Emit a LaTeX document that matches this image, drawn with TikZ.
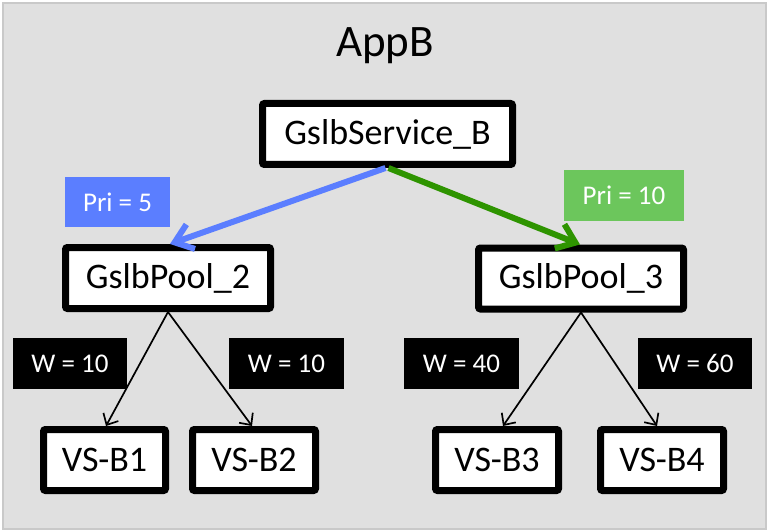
\documentclass[tikz,border=0pt]{standalone}
\usepackage{fontspec}
\setmainfont{Carlito}
\usetikzlibrary{arrows.meta,calc}
\definecolor{bgfill}{HTML}{E0E0E0}
\definecolor{bgline}{HTML}{C9C9C9}
\definecolor{priblue}{HTML}{5B7EFF}
\definecolor{prigreen}{HTML}{6CC65C}
\definecolor{arrgreen}{HTML}{2E9400}
\tikzset{
  box/.style={draw=black, fill=white, line width=7pt, rounded corners=2pt,
    inner sep=0pt, outer sep=3.5pt, minimum height=61pt, font=\fontsize{36}{40}\selectfont},
  lab/.style={inner sep=0pt, outer sep=0pt, text=white, minimum height=51pt,
    font=\fontsize{27}{30}\selectfont},
  bigarrow/.style={line width=6pt, -{Straight Barb[length=17pt,width=26pt]}},
  thinarrow/.style={line width=1.7pt, -{Straight Barb[length=9pt,width=17pt]}}
}
\begin{document}
\begin{tikzpicture}[x=1pt,y=-1pt]
\useasboundingbox (0,0) rectangle (769,532);
\draw[fill=bgfill, draw=bgline, line width=2pt] (3,3) rectangle (766,529);
\node[anchor=base, font=\fontsize{45}{50}\selectfont] (title) at (385,57) {AppB};
\node[box, minimum width=250pt] (svc) at (387.5,134) {GslbService\_B};
\node[box, minimum width=205pt] (pool2) at (168,278) {GslbPool\_2};
\node[box, minimum width=205pt] (pool3) at (581,278.5) {GslbPool\_3};
\node[box, minimum width=122pt] (vsb1) at (104.5,460) {VS-B1};
\node[box, minimum width=123pt] (vsb2) at (254,460) {VS-B2};
\node[box, minimum width=123pt] (vsb3) at (497,460) {VS-B3};
\node[box, minimum width=123pt] (vsb4) at (662,460) {VS-B4};
\node[lab, fill=priblue, minimum width=105pt, minimum height=50pt] (pri5) at (117.5,202) {Pri = 5};
\node[lab, fill=prigreen, minimum width=120pt] (pri10) at (624,195.5) {Pri = 10};
\node[lab, fill=black, minimum width=114pt] (w1) at (70,363.5) {W = 10};
\node[lab, fill=black, minimum width=115pt] (w2) at (286.5,363.5) {W = 10};
\node[lab, fill=black, minimum width=115pt] (w3) at (461.5,363.5) {W = 40};
\node[lab, fill=black, minimum width=114pt] (w4) at (695,363.5) {W = 60};
\draw[bigarrow, priblue] ([xshift=-2pt]svc.south) -- ([xshift=2pt]pool2.north);
\draw[bigarrow, arrgreen] ([xshift=1pt]svc.south) -- ([xshift=-1pt]pool3.north);
\draw[thinarrow] (pool2.south) -- ([xshift=1.5pt]vsb1.north);
\draw[thinarrow] (pool2.south) -- ([xshift=-2pt]vsb2.north);
\draw[thinarrow] (pool3.south) -- ([xshift=6pt]vsb3.north);
\draw[thinarrow] (pool3.south) -- ([xshift=-5pt]vsb4.north);
\end{tikzpicture}
\end{document}
